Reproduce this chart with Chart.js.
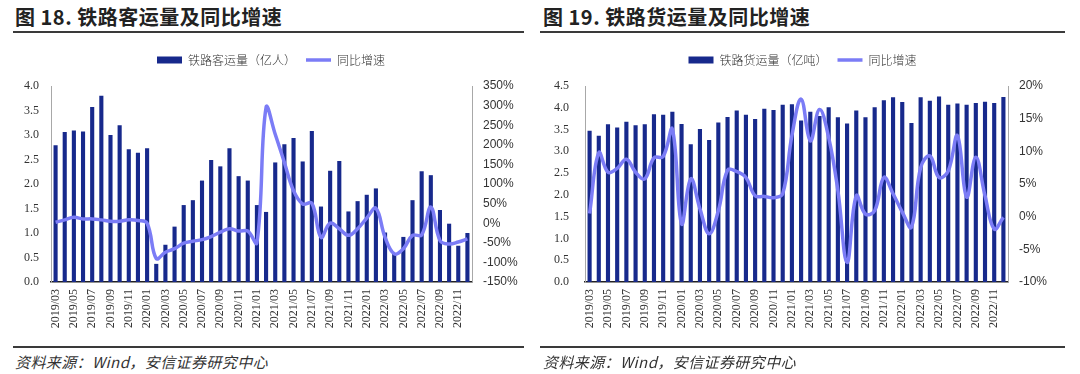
<!DOCTYPE html>
<html>
<head>
<meta charset="utf-8">
<script src="https://cdn.jsdelivr.net/npm/chart.js@4.4.1/dist/chart.umd.min.js"></script>
<style>
  body { margin: 0; width: 1080px; height: 374px; background: #fff; position: relative; overflow: hidden; font-family: "Noto Sans CJK SC", sans-serif; }
  .title { position: absolute; top: 2px; font-size: 20px; font-weight: bold; color: #222; letter-spacing: 0.5px; }
  .rule { position: absolute; height: 2px; background: #3a3a3a; }
  .note { position: absolute; top: 351px; font-size: 15px; font-style: italic; color: #333; letter-spacing: 0.4px; }
  .box { position: absolute; top: 40px; height: 300px; }
</style>
</head>
<body>
<div class="title" style="left:15px">图 18. 铁路客运量及同比增速</div>
<div class="rule" style="left:13px;width:511px;top:31px"></div>
<div class="box" style="left:0;width:542px"><canvas id="left"></canvas></div>
<div class="rule" style="left:13px;width:511px;top:346px"></div>
<div class="note" style="left:15px">资料来源：Wind，安信证券研究中心</div>

<div class="title" style="left:543px">图 19. 铁路货运量及同比增速</div>
<div class="rule" style="left:540px;width:525px;top:31px"></div>
<div class="box" style="left:530px;width:545px"><canvas id="right"></canvas></div>
<div class="rule" style="left:540px;width:525px;top:346px"></div>
<div class="note" style="left:543px">资料来源：Wind，安信证券研究中心</div>

<script>
// months 2019/03 .. 2022/12
const months = [
  '2019/03','2019/04','2019/05','2019/06','2019/07','2019/08','2019/09','2019/10','2019/11','2019/12',
  '2020/01','2020/02','2020/03','2020/04','2020/05','2020/06','2020/07','2020/08','2020/09','2020/10','2020/11','2020/12',
  '2021/01','2021/02','2021/03','2021/04','2021/05','2021/06','2021/07','2021/08','2021/09','2021/10','2021/11','2021/12',
  '2022/01','2022/02','2022/03','2022/04','2022/05','2022/06','2022/07','2022/08','2022/09','2022/10','2022/11','2022/12'
];

// 铁路客运量（亿人）
const passenger = [
  2.79, 3.06, 3.09, 3.07, 3.57, 3.80, 3.00, 3.20, 2.71, 2.64,
  2.73, 0.37, 0.76, 1.13, 1.57, 1.67, 2.07, 2.49, 2.36, 2.73, 2.16, 2.07,
  1.57, 1.43, 2.44, 2.81, 2.94, 2.46, 3.08, 1.54, 2.27, 2.47, 1.44, 1.65,
  1.78, 1.91, 1.01, 0.58, 0.92, 1.67, 2.26, 2.18, 1.47, 1.19, 0.74, 1.00
];
// 客运量同比增速 (%)
const passengerYoy = [
  2.5, 8.5, 15, 11, 11, 8.5, 5, 5, 8.5, 7,
  0, -90, -74, -65, -51, -46, -42, -34, -23, -14, -20, -20,
  -50, 295, 227, 155, 83, 49, 51, -36, 0, -14, -31, -14,
  13, 38, -36, -78, -65, -31, -30, 41, -44, -53, -48, -40
];

// 铁路货运量（亿吨）
const freight = [
  3.47, 3.36, 3.62, 3.55, 3.68, 3.60, 3.62, 3.85, 3.84, 3.91,
  3.63, 3.16, 3.51, 3.26, 3.66, 3.79, 3.94, 3.84, 3.74, 3.98, 3.95, 4.07,
  4.08, 3.71, 3.91, 3.81, 4.01, 3.78, 3.64, 3.94, 3.78, 4.01, 4.17, 4.24,
  4.13, 3.65, 4.24, 4.16, 4.26, 4.07, 4.10, 4.07, 4.11, 4.14, 4.11, 4.25
];
// 货运量同比增速 (%)
const freightYoy = [
  0.5, 9.8, 6.8, 7.4, 8.8, 6.8, 5.8, 9.0, 9.2, 13.4,
  -1.1, 5.8, 1.2, -2.6, 0.9, 7.1, 6.9, 6.0, 3.2, 3.1, 2.9, 3.5,
  12.4, 18.0, 11.6, 16.4, 12.1, 4.0, -7.0, 3.2, 0.4, 0.9, 6.0, 3.5,
  0.7, -1.6, 7.5, 9.3, 6.0, 7.0, 12.4, 3.0, 9.1, 3.2, -1.9, -0.1
];

const barColor = '#17298c';
const lineColor = '#7b7cf6';

Chart.defaults.animation = false;
Chart.defaults.color = '#333';

function makeChart(id, barLabel, bars, yoy, left, right, widths) {
  return new Chart(document.getElementById(id), {
    type: 'bar',
    data: {
      labels: months,
      datasets: [
        {
          type: 'line',
          label: '同比增速',
          data: yoy,
          yAxisID: 'y2',
          borderColor: lineColor,
          backgroundColor: lineColor,
          borderWidth: 3.5,
          pointRadius: 0,
          pointStyle: 'line',
          tension: 0.4,
          order: 0
        },
        {
          label: barLabel,
          data: bars,
          yAxisID: 'y',
          backgroundColor: barColor,
          pointStyle: 'rect',
          barPercentage: 0.45,
          categoryPercentage: 1.0,
          order: 1
        }
      ]
    },
    options: {
      responsive: false,
      layout: { padding: { top: 4, left: 0, right: 0, bottom: 0 } },
      plugins: {
        tooltip: { enabled: false },
        legend: {
          reverse: true,
          labels: {
            usePointStyle: true,
            pointStyleWidth: 25,
            boxHeight: 7,
            padding: 10,
            color: '#333',
            font: { family: '"Noto Sans CJK SC"', size: 12, weight: 300 }
          }
        },
        // empty box that only keeps a gap between legend and plot
        subtitle: {
          display: true,
          text: ' ',
          weight: 500,
          padding: 0,
          font: { size: 10, lineHeight: 1 }
        }
      },
      scales: {
        x: {
          grid: { display: false, drawTicks: false },
          border: { color: '#222', width: 1.5 },
          ticks: {
            autoSkip: false,
            maxRotation: 90,
            minRotation: 90,
            padding: 7,
            font: { family: '"Liberation Serif"', size: 12 },
            callback: (v, i) => (i % 2 === 0 ? months[i] : '')
          },
          afterFit: s => { s.height = 58; }
        },
        y: {
          position: 'left',
          min: 0,
          max: left.max,
          grid: { display: false, drawTicks: false },
          border: { color: '#a8a8a8' },
          ticks: {
            stepSize: 0.5,
            padding: left.pad,
            font: { family: '"Liberation Serif"', size: 12 },
            callback: v => v.toFixed(1)
          },
          afterFit: s => { s.width = widths[0]; }
        },
        y2: {
          position: 'right',
          min: right.min,
          max: right.max,
          grid: { display: false, drawTicks: false },
          border: { color: '#a8a8a8' },
          ticks: {
            stepSize: right.step,
            padding: 11,
            font: { family: '"Liberation Sans"', size: 12 },
            callback: v => v + '%'
          },
          afterFit: s => { s.width = widths[1]; }
        }
      }
    }
  });
}

document.getElementById('left').width = 542;
document.getElementById('left').height = 300;
document.getElementById('right').width = 545;
document.getElementById('right').height = 300;

makeChart('left', '铁路客运量（亿人）', passenger, passengerYoy,
  { max: 4, pad: 12 }, { min: -150, max: 350, step: 50 }, [51, 70]);
makeChart('right', '铁路货运量（亿吨）', freight, freightYoy,
  { max: 4.5, pad: 16 }, { min: -10, max: 20, step: 5 }, [55, 67]);
</script>
</body>
</html>
